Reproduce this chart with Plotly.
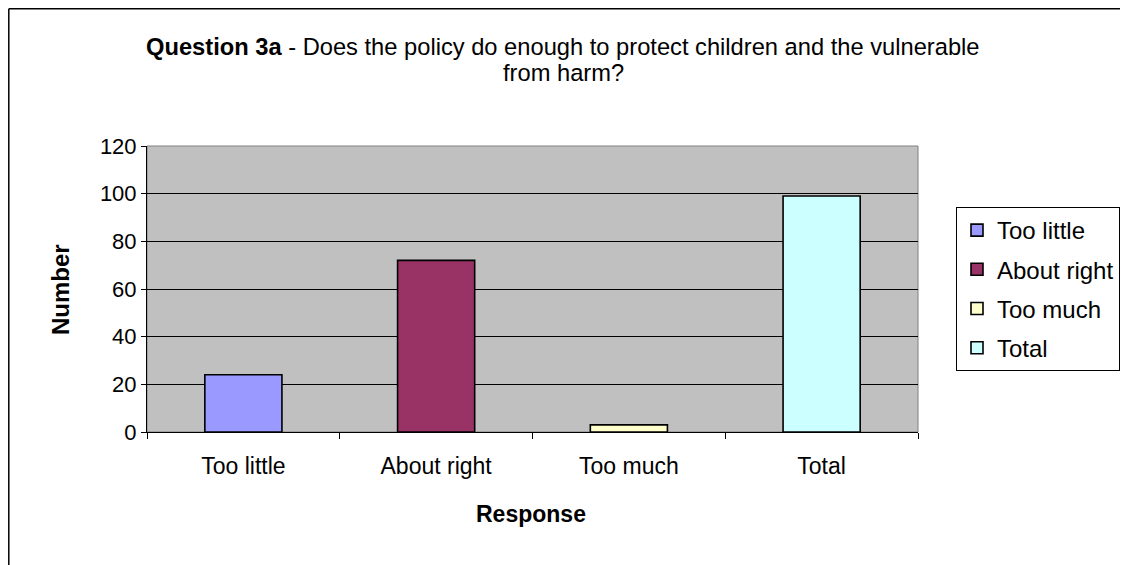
import plotly.graph_objects as go

categories = ["Too little", "About right", "Too much", "Total"]
values = [24, 72, 3, 99]
colors = ["#9999FF", "#993366", "#FFFFCC", "#CCFFFF"]
y_ticks = [0, 20, 40, 60, 80, 100, 120]

FONT = "Liberation Sans, Arial, sans-serif"
OFF = 8  # page body margin
W, H = 1128 - OFF, 565 - OFF
L, R, T, B = 147 - OFF, 918 - OFF, 146 - OFF, 432 - OFF
pw, ph = R - L, B - T


def px_x(p):
    """reference screenshot x pixel -> paper coordinate"""
    return (p - OFF - L) / pw


def px_y(p):
    """reference screenshot y pixel -> paper coordinate"""
    return (B - (p - OFF)) / ph


fig = go.Figure()
for c, v, col in zip(categories, values, colors):
    fig.add_trace(go.Bar(
        x=[c], y=[v], name=c, legendgroup=c,
        marker=dict(color=col, line=dict(color="black", width=1.6)),
    ))

fig.update_layout(
    width=W, height=H,
    margin=dict(l=L, r=W - R, t=T, b=H - B, autoexpand=False),
    paper_bgcolor="white",
    plot_bgcolor="#C0C0C0",
    barmode="relative",
    bargap=0.6,
    font=dict(family=FONT, size=22, color="black"),
    showlegend=True,
    legend=dict(
        x=px_x(956), y=px_y(207), xanchor="left", yanchor="top",
        bordercolor="black", borderwidth=1, bgcolor="white",
        font=dict(family=FONT, size=24, color="black"),
        tracegroupgap=5, itemwidth=30,
    ),
    xaxis=dict(
        categoryorder="array", categoryarray=categories,
        tickson="boundaries", ticks="outside", ticklen=6, tickcolor="black",
        showline=True, linecolor="black", linewidth=1,
        showgrid=False, zeroline=False, ticklabelstandoff=13,
        tickfont=dict(family=FONT, size=23, color="black"),
    ),
    yaxis=dict(
        range=[0, 120], tickvals=y_ticks, ticks="outside", ticklen=5, tickcolor="black",
        showline=True, linecolor="black", linewidth=1,
        showgrid=True, gridcolor="black", gridwidth=1, zeroline=False,
        tickfont=dict(family=FONT, size=22, color="black"),
    ),
    shapes=[
        dict(type="rect", xref="paper", yref="paper", x0=0, x1=1, y0=0, y1=1,
             line=dict(color="#808080", width=1), layer="below"),
        dict(type="line", xref="paper", yref="paper",
             x0=px_x(8.8), x1=px_x(8.8), y0=px_y(8.8), y1=px_y(600),
             line=dict(color="black", width=1.5)),
        dict(type="line", xref="paper", yref="paper",
             x0=px_x(8.8), x1=px_x(1200), y0=px_y(8.8), y1=px_y(8.8),
             line=dict(color="black", width=1.5)),
    ],
    annotations=[
        dict(text="<b>Question 3a</b> - Does the policy do enough to protect children and the vulnerable",
             xref="paper", yref="paper", x=px_x(563), y=px_y(47),
             xanchor="center", yanchor="middle", showarrow=False,
             font=dict(family=FONT, size=23.7, color="black")),
        dict(text="from harm?",
             xref="paper", yref="paper", x=px_x(563), y=px_y(73),
             xanchor="center", yanchor="middle", showarrow=False,
             font=dict(family=FONT, size=23.7, color="black")),
        dict(text="<b>Response</b>", xref="paper", yref="paper",
             x=px_x(531), y=px_y(514), xanchor="center", yanchor="middle",
             showarrow=False, font=dict(family=FONT, size=23, color="black")),
        dict(text="<b>Number</b>", xref="paper", yref="paper",
             x=px_x(60), y=px_y(290), xanchor="center", yanchor="middle",
             textangle=-90, showarrow=False,
             font=dict(family=FONT, size=24, color="black")),
    ],
)

fig.write_html("out.html")
